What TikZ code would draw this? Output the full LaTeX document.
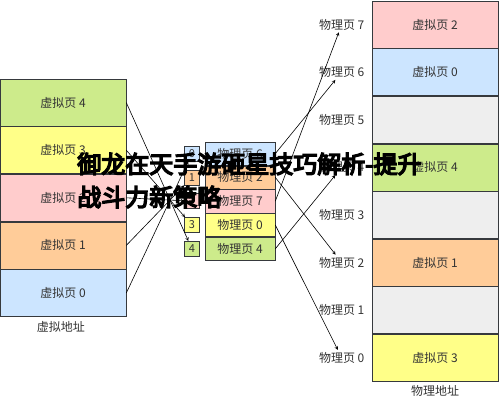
\documentclass[tikz,border=0pt]{standalone}
\usepackage{fontspec}
\setmainfont{Noto Sans CJK SC}
\newfontfamily\markfont[FakeBold=6]{Noto Sans CJK SC}
\usetikzlibrary{positioning}
\definecolor{pgreen}{HTML}{CDEB8B}
\definecolor{pyellow}{HTML}{FFFF88}
\definecolor{ppink}{HTML}{FFCCCC}
\definecolor{porange}{HTML}{FFCC99}
\definecolor{pblue}{HTML}{CCE5FF}
\definecolor{pgray}{HTML}{EEEEEE}
\definecolor{edge}{HTML}{36393D}
\definecolor{ink}{HTML}{333333}
\tikzset{
  page/.style={draw=edge, text=ink, minimum width=126pt, minimum height=47pt, inner sep=0pt, font=\fontsize{12}{14}\selectfont},
  entry/.style={draw=edge, text=ink, minimum width=70pt, minimum height=23.2pt, inner sep=0pt, font=\fontsize{12}{14}\selectfont},
  idx/.style={draw=edge, text=ink, minimum width=15pt, minimum height=15pt, inner sep=0pt, font=\fontsize{11}{13}\selectfont},
  plabel/.style={text=ink, anchor=east, inner sep=2pt, font=\fontsize{12}{14}\selectfont},
  caption/.style={text=ink, font=\fontsize{12}{14}\selectfont},
  overlay text/.style={anchor=west, inner sep=0pt, font=\markfont\fontsize{24}{26}\selectfont}
}
\begin{document}
\begin{tikzpicture}[x=1pt, y=-1pt, >=stealth, line width=0.6pt]
  \useasboundingbox[fill=white] (0,0) rectangle (499,402);

  % virtual address space
  \node[page, fill=pgreen] (v4) at (63,102.6) {虚拟页 4};
  \node[page, fill=pyellow, below=0pt of v4] (v3) {虚拟页 3};
  \node[page, fill=ppink, below=0pt of v3] (v2) {虚拟页 2};
  \node[page, fill=porange, below=0pt of v2] (v1) {虚拟页 1};
  \node[page, fill=pblue, below=0pt of v1] (v0) {虚拟页 0};
  \node[caption] (vcap) at (61,327) {虚拟地址};

  % page table
  \node[entry, fill=pblue] (r0) at (240,153.6) {物理页 6};
  \node[entry, fill=porange, below=0pt of r0] (r1) {物理页 2};
  \node[entry, fill=ppink, below=0pt of r1] (r2) {物理页 7};
  \node[entry, fill=pyellow, below=0pt of r2] (r3) {物理页 0};
  \node[entry, fill=pgreen, below=0pt of r3] (r4) {物理页 4};
  \node[idx, fill=pblue, left=5pt of r0] (i0) {0};
  \node[idx, fill=porange, left=5pt of r1] (i1) {1};
  \node[idx, fill=ppink, left=5pt of r2] (i2) {2};
  \node[idx, fill=pyellow, left=5pt of r3] (i3) {3};
  \node[idx, fill=pgreen, left=5pt of r4] (i4) {4};

  % physical address space
  \node[page, fill=ppink] (m7) at (435,24.5) {虚拟页 2};
  \node[page, fill=pblue, below=0pt of m7] (m6) {虚拟页 0};
  \node[page, fill=pgray, below=0pt of m6] (m5) {};
  \node[page, fill=pgreen, below=0pt of m5] (m4) {虚拟页 4};
  \node[page, fill=pgray, below=0pt of m4] (m3) {};
  \node[page, fill=porange, below=0pt of m3] (m2) {虚拟页 1};
  \node[page, fill=pgray, below=0pt of m2] (m1) {};
  \node[page, fill=pyellow, below=0pt of m1] (m0) {虚拟页 3};
  \node[caption] (mcap) at (435,391) {物理地址};
  \foreach \k in {0,...,7}
    \node[plabel] (p\k) at ([xshift=-5pt]m\k.west) {物理页 \k};

  % virtual page -> page table index
  \draw[->] (v4.east) -- (i4);
  \draw[->] (v3.east) -- (i3);
  \draw[->] (v2.east) -- (i2);
  \draw[->] (v1.east) -- (i1);
  \draw[->] (v0.east) -- (i0);

  % page table -> physical page
  \draw[->] (r0.east) -- (p6);
  \draw[->] (r1.east) -- (p2);
  \draw[->] (r2.east) -- (p7);
  \draw[->] (r3.east) -- (p0);
  \draw[->] (r4.east) -- (p4);

  % overlay text
  \node[overlay text] (mark1) at (77,164) {御龙在天手游砸星技巧解析-提升};
  \node[overlay text] (mark2) at (77,197) {战斗力新策略};
\end{tikzpicture}
\end{document}
